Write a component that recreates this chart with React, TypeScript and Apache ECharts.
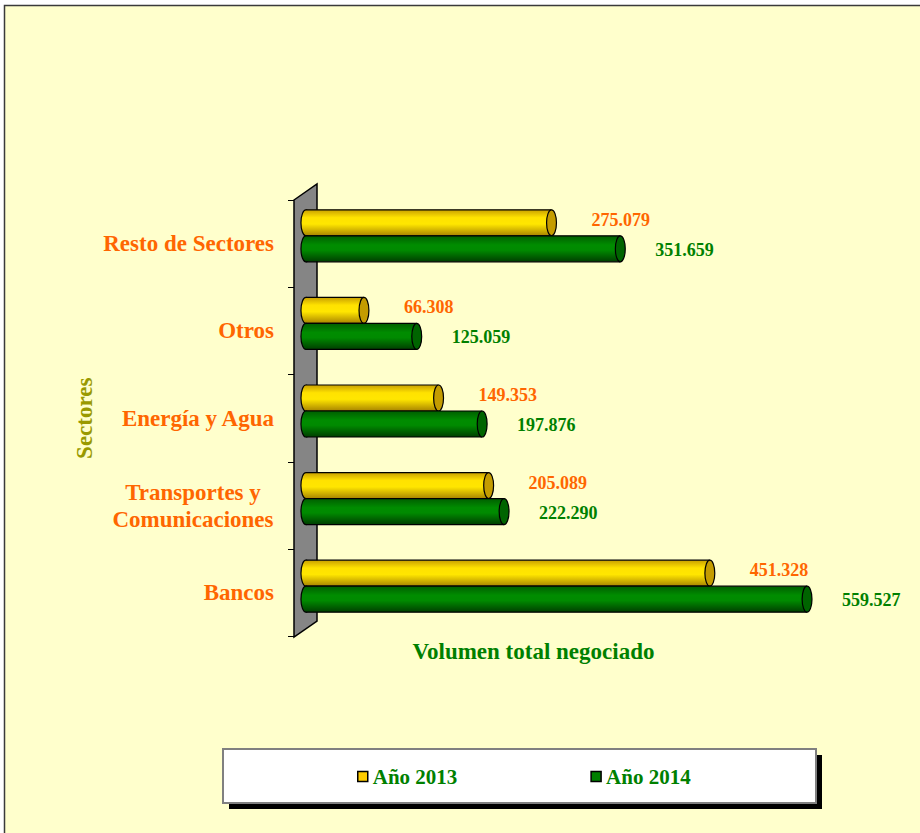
import React, { useEffect, useRef } from "react";
import * as echarts from "echarts";

const categories = ["Bancos", "Transportes y\nComunicaciones", "Energía y Agua", "Otros", "Resto de Sectores"];
const seriesNames = ["Año 2013", "Año 2014"];
const values2013 = [451328, 205089, 149353, 66308, 275079];
const values2014 = [559527, 222290, 197876, 125059, 351659];
const axisMax = 600000;
const yAxisTitle = "Sectores";
const xAxisTitle = "Volumen total negociado";

const FONT = '"Liberation Serif", "Times New Roman", serif';

const styles = [
  {
    stops: [
      { offset: 0, color: "#C9A000" },
      { offset: 0.3, color: "#FFE200" },
      { offset: 0.55, color: "#FFE600" },
      { offset: 1, color: "#A88400" },
    ],
    cap: "#C49C00",
    legend: "#FFCC00",
    label: "#FF6600",
    labelDy: -3,
    labelGap: 35,
  },
  {
    stops: [
      { offset: 0, color: "#005E00" },
      { offset: 0.35, color: "#008C00" },
      { offset: 0.55, color: "#008A00" },
      { offset: 1, color: "#003E00" },
    ],
    cap: "#006400",
    legend: "#008000",
    label: "#008000",
    labelDy: 1,
    labelGap: 30,
  },
];

const fmt = (v: number) => String(v).replace(/\B(?=(\d{3})+(?!\d))/g, ".");

const makeRender = (si: number) => (_params: any, api: any) => {
  const cat = api.value(0);
  const v = api.value(1);
  const p0 = api.coord([0, cat]);
  const p1 = api.coord([v, cat]);
  const band = api.size([0, 1])[1];
  const h = band * 0.297;
  const cy = p1[1] + (si === 0 ? -h / 2 : h / 2);
  const top = cy - h / 2;
  const rx = h * 0.19;
  const xs = p0[0] + 1.5;
  const xe = p1[0];
  const st = styles[si];
  const grad = { type: "linear", x: 0, y: 0, x2: 0, y2: 1, colorStops: st.stops };
  return {
    type: "group",
    children: [
      { type: "ellipse", shape: { cx: xs, cy, rx, ry: h / 2 }, style: { fill: grad, stroke: "#000", lineWidth: 1.2 } },
      { type: "rect", shape: { x: xs, y: top, width: xe - xs, height: h }, style: { fill: grad } },
      { type: "line", shape: { x1: xs, y1: top, x2: xe, y2: top }, style: { stroke: "#000", lineWidth: 1.2 } },
      { type: "line", shape: { x1: xs, y1: top + h, x2: xe, y2: top + h }, style: { stroke: "#000", lineWidth: 1.2 } },
      { type: "ellipse", shape: { cx: xe, cy, rx, ry: h / 2 }, style: { fill: st.cap, stroke: "#000", lineWidth: 1.2 } },
      {
        type: "text",
        x: xe + rx + st.labelGap,
        y: cy + st.labelDy,
        style: {
          text: fmt(v),
          fill: st.label,
          fontSize: 18,
          fontWeight: "bold",
          fontFamily: FONT,
          align: "left",
          verticalAlign: "middle",
        },
      },
    ],
  };
};

export default function App() {
  const ref = useRef<HTMLDivElement>(null);
  useEffect(() => {
    if (!ref.current) return;
    const chart = echarts.init(ref.current, undefined, { renderer: "svg" });
    const allValues = [values2013, values2014];
    chart.setOption({
      animation: false,
      backgroundColor: "#FFFFFF",
      graphic: [
        {
          type: "rect",
          z: -10,
          silent: true,
          shape: { x: 4.5, y: 5.5, width: 950, height: 860 },
          style: { fill: "#FFFFCC", stroke: "#3A3A3A", lineWidth: 1.5 },
        },
        {
          type: "polygon",
          z: 1,
          silent: true,
          shape: { points: [[294, 200], [317, 184], [317, 621], [294, 637]] },
          style: { fill: "#858585", stroke: "#000", lineWidth: 1.5 },
        },
        {
          type: "rect",
          z: 1,
          silent: true,
          shape: { x: 229, y: 755, width: 593, height: 54 },
          style: { fill: "#000" },
        },
        {
          type: "rect",
          z: 1,
          silent: true,
          shape: { x: 223, y: 749, width: 593, height: 54 },
          style: { fill: "#FFFFFF", stroke: "#808080", lineWidth: 2 },
        },
      ],
      legend: {
        z: 10,
        data: seriesNames.map((n, i) => ({
          name: n,
          itemStyle: { color: styles[i].legend, borderColor: "#000", borderWidth: 1.5 },
        })),
        icon: "rect",
        left: 357,
        top: 766,
        padding: 0,
        itemWidth: 10,
        itemHeight: 10,
        itemGap: 133,
        textStyle: { color: "#008000", fontSize: 21, fontWeight: "bold", fontFamily: FONT },
      },
      grid: [
        { left: 304.4, top: 192, width: 539, height: 438 },
        { left: 294, top: 200, width: 479, height: 436.5 },
      ],
      xAxis: [
        { gridIndex: 0, type: "value", min: 0, max: axisMax, show: false },
        {
          gridIndex: 1,
          type: "value",
          min: 0,
          max: 1,
          axisLine: { show: false },
          axisTick: { show: false },
          axisLabel: { show: false },
          splitLine: { show: false },
          name: xAxisTitle,
          nameLocation: "middle",
          nameGap: 3,
          nameTextStyle: {
            color: "#008000",
            fontSize: 23,
            fontWeight: "bold",
            fontFamily: FONT,
            verticalAlign: "top",
          },
        },
      ],
      yAxis: [
        { gridIndex: 0, type: "category", data: categories, show: false },
        {
          gridIndex: 1,
          type: "category",
          data: categories,
          axisLine: { show: false },
          axisTick: { show: true, length: 6, lineStyle: { color: "#000", width: 1 } },
          splitLine: { show: false },
          axisLabel: {
            interval: 0,
            margin: 20,
            color: "#FF6600",
            fontSize: 23,
            fontWeight: "bold",
            fontFamily: FONT,
            formatter: (val: string) =>
              val.includes("\n") ? val.split("\n").map((s) => `{c|${s}}`).join("\n") : val,
            rich: {
              c: {
                width: 162,
                align: "center",
                color: "#FF6600",
                fontSize: 23,
                fontWeight: "bold",
                fontFamily: FONT,
                lineHeight: 27,
              },
            },
          },
          name: yAxisTitle,
          nameLocation: "middle",
          nameRotate: 90,
          nameGap: 198,
          nameMoveOverlap: false,
          nameTextStyle: { color: "#999900", fontSize: 23, fontWeight: "bold", fontFamily: FONT },
        },
      ],
      series: seriesNames.map((n, si) => ({
        name: n,
        type: "custom",
        xAxisIndex: 0,
        yAxisIndex: 0,
        z: 3,
        itemStyle: { color: styles[si].legend },
        encode: { x: 1, y: 0 },
        data: allValues[si].map((v, i) => [i, v]),
        renderItem: makeRender(si),
      })),
    });
    return () => chart.dispose();
  }, []);
  return (
    <div style={{ position: "fixed", left: 0, top: 0, width: 920, height: 833, background: "#fff" }}>
      <div ref={ref} style={{ width: 920, height: 833 }} />
    </div>
  );
}
